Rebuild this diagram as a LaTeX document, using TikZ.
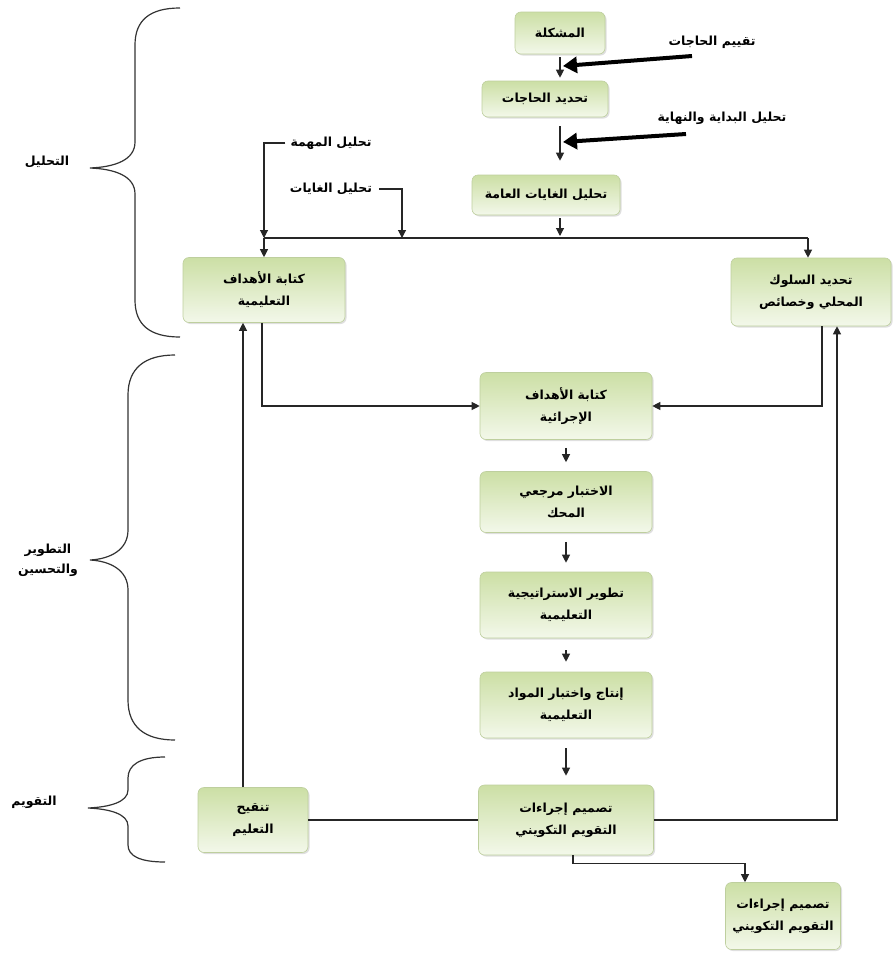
\documentclass[tikz,border=0pt]{standalone}
\usepackage{fontspec}
\setmainfont{DejaVu Sans}
\newfontfamily\arabicfont[Script=Arabic]{DejaVu Sans}
\TeXXeTstate=1
\usetikzlibrary{arrows.meta,shadows,calc}
\definecolor{gtop}{RGB}{204,223,165}
\definecolor{gbot}{RGB}{243,248,234}
\definecolor{gedge}{RGB}{190,207,158}
\newcommand{\artxt}[1]{\beginR #1\endR}
\begin{document}
\begin{tikzpicture}[x=1pt,y=-1pt,
  box/.style={rounded corners=6pt, top color=gtop, bottom color=gbot, draw=gedge, line width=0.6pt,
    drop shadow={shadow xshift=1.5pt, shadow yshift=-1.5pt, opacity=0.25},
    align=center, font=\arabicfont\bfseries\fontsize{12.5}{22}\selectfont, inner sep=2pt},
  lab/.style={align=center, font=\arabicfont\bfseries\fontsize{12.5}{20}\selectfont, inner sep=1pt},
  conn/.style={line width=1.1pt, draw=black!85},
  arr/.style={conn, -{Triangle[length=8pt,width=8pt]}},
  thickarr/.style={line width=4pt, -{Triangle[length=14pt,width=16pt]}},
  brace/.style={line width=1.2pt, draw=black!80}]
\useasboundingbox (0,0) rectangle (893,953);
\fill[white] (0,0) rectangle (893,953);

% boxes
\node[box, minimum width=90pt, minimum height=42pt] (p1) at (560,33) {\artxt{المشكلة}};
\node[box, minimum width=126pt, minimum height=36pt] (p2) at (545,99) {\artxt{تحديد الحاجات}};
\node[box, minimum width=148pt, minimum height=40pt] (p3) at (546,195) {\artxt{تحليل الغايات العامة}};
\node[box, minimum width=162pt, minimum height=65pt] (p4) at (264,290) {\artxt{كتابة الأهداف}\\\artxt{التعليمية}};
\node[box, minimum width=160pt, minimum height=68pt] (p5) at (811,292) {\artxt{تحديد السلوك}\\\artxt{المحلي وخصائص}};
\node[box, minimum width=172pt, minimum height=67pt] (p6) at (566,406) {\artxt{كتابة الأهداف}\\\artxt{الإجرائية}};
\node[box, minimum width=172pt, minimum height=61pt] (p7) at (566,502) {\artxt{الاختبار مرجعي}\\\artxt{المحك}};
\node[box, minimum width=172pt, minimum height=66pt] (p8) at (566,605) {\artxt{تطوير الاستراتيجية}\\\artxt{التعليمية}};
\node[box, minimum width=172pt, minimum height=66pt] (p9) at (566,705) {\artxt{إنتاج واختبار المواد}\\\artxt{التعليمية}};
\node[box, minimum width=175pt, minimum height=70pt] (p10) at (566,820) {\artxt{تصميم إجراءات}\\\artxt{التقويم التكويني}};
\node[box, minimum width=110pt, minimum height=65pt] (p11) at (253,820) {\artxt{تنقيح}\\\artxt{التعليم}};
\node[box, minimum width=115pt, minimum height=67pt] (p12) at (783,916) {\artxt{تصميم إجراءات}\\\artxt{التقويم التكويني}};

% side labels
\node[lab] (l1) at (712,42) {\artxt{تقييم الحاجات}};
\node[lab] (l2) at (722,118) {\artxt{تحليل البداية والنهاية}};
\node[lab] (l3) at (331,143) {\artxt{تحليل المهمة}};
\node[lab] (l4) at (331,189) {\artxt{تحليل الغايات}};

% phase labels
\node[lab] (b1) at (47,162) {\artxt{التحليل}};
\node[lab] (b2) at (48,560) {\artxt{التطوير}\\\artxt{والتحسين}};
\node[lab] (b3) at (34,802) {\artxt{التقويم}};

% coordinates
\coordinate (jL) at (264,238);
\coordinate (jR) at (808,238);
\coordinate (jG) at (402,238);
\coordinate (jM) at (560,238);
\coordinate (t1s) at (692,56);
\coordinate (t1e) at (563,66);
\coordinate (t2s) at (686,134);
\coordinate (t2e) at (563,142);

% top column
\draw[arr, shorten <=3pt, shorten >=3pt] (p1.south) -- (p1.south |- p2.north);
\draw[arr, shorten <=9pt, shorten >=14pt] (p1.south |- p2.south) -- (p1.south |- p3.north);
\draw[arr, shorten <=3pt, shorten >=2pt] (p1.south |- p3.south) -- (jM);
\draw[thickarr] (t1s) -- (t1e);
\draw[thickarr] (t2s) -- (t2e);

% horizontal distribution line
\draw[conn] (jL) -- (jR);
\draw[arr] (jL) -- (jL |- p4.north);
\draw[arr] (jR) -- (jR |- p5.north);
\draw[arr, shorten <=4pt] (l3.west) -| (jL);
\draw[arr, shorten <=6pt] (l4.east) -| (jG);

% to operational objectives
\draw[arr] ([xshift=-2pt]p4.south) |- (p6.west);
\draw[arr] ([xshift=11pt]p5.south) |- (p6.east);

% middle column
\draw[arr, shorten <=8pt, shorten >=9pt] (p6.south) -- (p7.north);
\draw[arr, shorten <=9pt, shorten >=9pt] (p7.south) -- (p8.north);
\draw[arr, shorten <=12pt, shorten >=10pt] (p8.south) -- (p9.north);
\draw[arr, shorten <=10pt, shorten >=9pt] (p9.south) -- (p10.north);

% evaluation loops
\draw[conn] (p11.east) -- (p11.east -| p10.west);
\draw[arr] ([xshift=-10pt]p11.north) -- ([xshift=-10pt]p11.north |- p4.south);
\draw[arr] (p10.east) -| ([xshift=26pt]p5.south);
\draw[arr] ([xshift=7pt]p10.south) -- ++(0,8) -| ([xshift=-38pt]p12.north);

% braces
\draw[brace] (180,8) .. controls (150,8) and (135,20) .. (135,45) -- (135,142)
  .. controls (135,160) and (115,167) .. (90,168)
  .. controls (115,169) and (135,176) .. (135,194) -- (135,300)
  .. controls (135,325) and (150,337) .. (180,337);
\draw[brace] (175,355) .. controls (145,355) and (128,368) .. (128,395) -- (128,530)
  .. controls (128,550) and (110,559) .. (90,560)
  .. controls (110,561) and (128,570) .. (128,590) -- (128,700)
  .. controls (128,727) and (145,740) .. (175,740);
\draw[brace] (165,757) .. controls (140,757) and (128,765) .. (128,778) -- (128,790)
  .. controls (128,802) and (110,807) .. (88,808)
  .. controls (110,809) and (128,814) .. (128,826) -- (128,845)
  .. controls (128,856) and (140,862) .. (165,862);
\end{tikzpicture}
\end{document}
